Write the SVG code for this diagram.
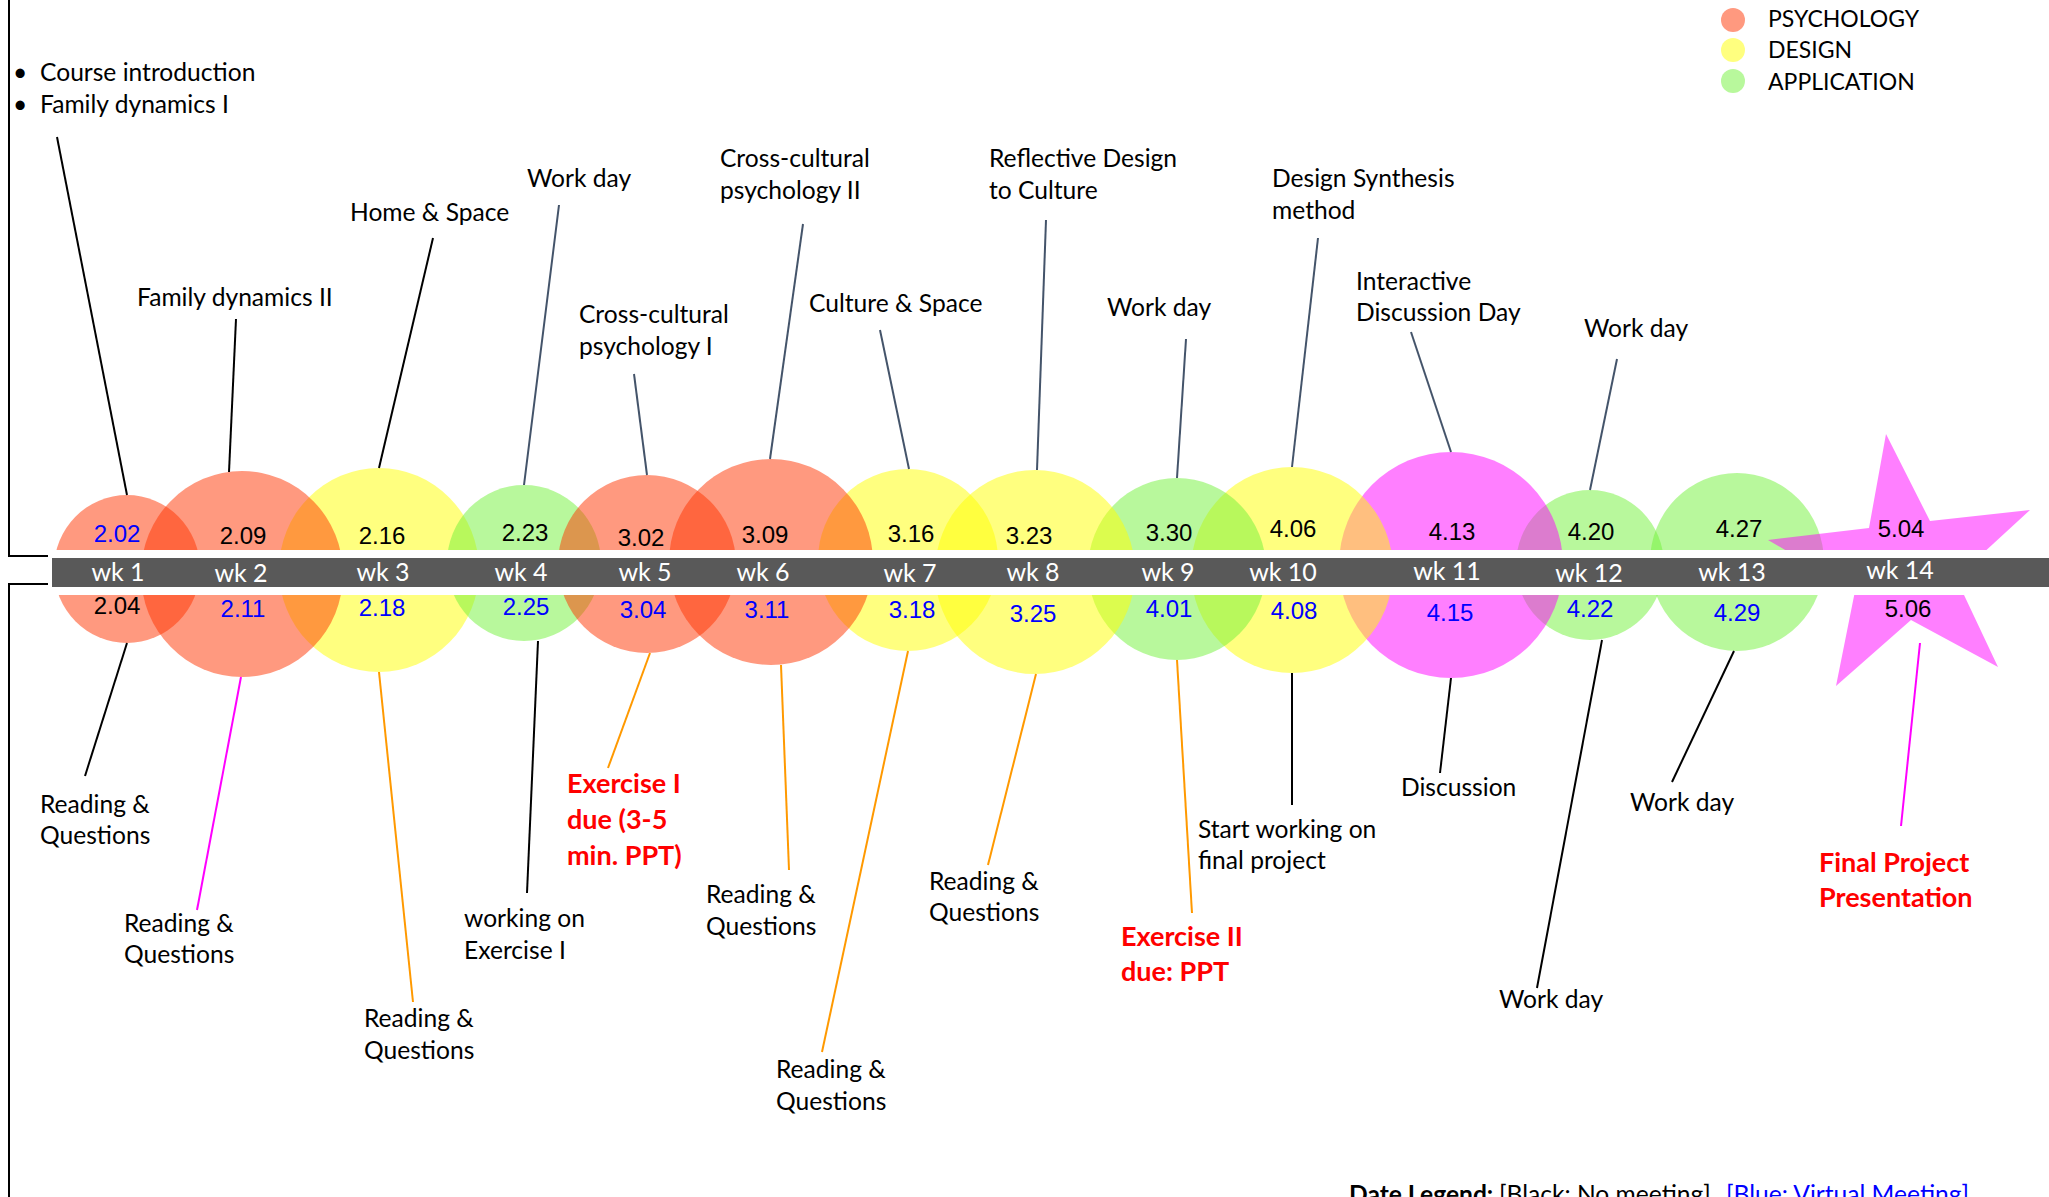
<svg xmlns="http://www.w3.org/2000/svg" width="2049" height="1197" viewBox="0 0 2049 1197">
<style>
.psy{fill:#FF3300;fill-opacity:.5}
.des{fill:#FFFF00;fill-opacity:.5}
.app{fill:#72F23A;fill-opacity:.5}
.mag{fill:#FF00FF;fill-opacity:.5}
.d{font-family:"Liberation Sans",Arial,sans-serif;font-size:24px;text-anchor:middle;fill:#000}
.b{fill:#0000FF}
.wk{font-family:Lato,"Open Sans",sans-serif;font-size:25px;fill:#FFFFFF;text-anchor:middle}
.lb{font-family:Lato,"Open Sans",sans-serif;font-size:24.6px;fill:#000}
.lg{font-family:Lato,"Open Sans",sans-serif;font-size:23px;fill:#000}
.red{font-family:Lato,"Open Sans",sans-serif;font-size:27px;font-weight:bold;fill:#FF0000}
.c line{stroke-width:2;fill:none}
.k{stroke:#000}
.s{stroke:#44546A}
.o{stroke:#FF9900}
.m{stroke:#FF00FF}
.frame{stroke:#000;stroke-width:2;fill:none}
</style>
<rect width="2049" height="1197" fill="#FFFFFF"/>

<g id="frame">
<polyline class="frame" points="9,0 9,556 48,556"/>
<polyline class="frame" points="48,584 9,584 9,1197"/>
</g>

<g id="nodes">
<g id="wk12"><ellipse class="app" cx="1590" cy="565" rx="74" ry="75"/><text class="d" x="1591" y="540">4.20</text><text class="d b" x="1590" y="617">4.22</text></g>
<g id="wk13"><ellipse class="app" cx="1737" cy="562" rx="87" ry="89"/><text class="d" x="1739" y="537">4.27</text><text class="d b" x="1737" y="621">4.29</text></g>
<g id="wk14"><polygon class="mag" points="1886,434 1930,521 2030,510 1956,578 1998,667 1911,620 1836,686 1855,591 1768,540 1869,528"/><text class="d" x="1901" y="537">5.04</text><text class="d" x="1908" y="617">5.06</text></g>
<g id="wk11"><ellipse class="mag" cx="1451" cy="565" rx="112" ry="113"/><text class="d" x="1452" y="540">4.13</text><text class="d b" x="1450" y="621">4.15</text></g>
<g id="wk10"><ellipse class="des" cx="1292" cy="570" rx="101" ry="103"/><text class="d" x="1293" y="537">4.06</text><text class="d b" x="1294" y="619">4.08</text></g>
<g id="wk9"><ellipse class="app" cx="1177" cy="569" rx="89" ry="91"/><text class="d" x="1169" y="541">3.30</text><text class="d b" x="1169" y="617">4.01</text></g>
<g id="wk8"><ellipse class="des" cx="1035" cy="572" rx="100" ry="102"/><text class="d" x="1029" y="544">3.23</text><text class="d b" x="1033" y="622">3.25</text></g>
<g id="wk7"><ellipse class="des" cx="908" cy="560" rx="90" ry="91"/><text class="d" x="911" y="542">3.16</text><text class="d b" x="912" y="618">3.18</text></g>
<g id="wk3"><ellipse class="des" cx="379" cy="570" rx="100" ry="102"/><text class="d" x="382" y="544">2.16</text><text class="d b" x="382" y="616">2.18</text></g>
<g id="wk4"><ellipse class="app" cx="524" cy="563" rx="77" ry="78"/><text class="d" x="525" y="541">2.23</text><text class="d b" x="526" y="615">2.25</text></g>
<g id="wk1"><ellipse class="psy" cx="127" cy="569" rx="73" ry="74"/><text class="d b" x="117" y="542">2.02</text><text class="d" x="117" y="614">2.04</text></g>
<g id="wk2"><ellipse class="psy" cx="242" cy="574" rx="101" ry="103"/><text class="d" x="243" y="544">2.09</text><text class="d b" x="243" y="617">2.11</text></g>
<g id="wk5"><ellipse class="psy" cx="647" cy="564" rx="89" ry="89"/><text class="d" x="641" y="546">3.02</text><text class="d b" x="643" y="618">3.04</text></g>
<g id="wk6"><ellipse class="psy" cx="771" cy="562" rx="102" ry="103"/><text class="d" x="765" y="543">3.09</text><text class="d b" x="767" y="618">3.11</text></g>
</g>

<g id="timeline">
<rect x="52" y="550" width="1997" height="45" fill="#FFFFFF"/>
<rect x="52" y="558" width="1997" height="29" fill="#595959"/>
<text class="wk" x="118" y="581">wk 1</text>
<text class="wk" x="241" y="582">wk 2</text>
<text class="wk" x="383" y="581">wk 3</text>
<text class="wk" x="521" y="581">wk 4</text>
<text class="wk" x="645" y="581">wk 5</text>
<text class="wk" x="763" y="581">wk 6</text>
<text class="wk" x="910" y="582">wk 7</text>
<text class="wk" x="1033" y="581">wk 8</text>
<text class="wk" x="1168" y="581">wk 9</text>
<text class="wk" x="1283" y="581">wk 10</text>
<text class="wk" x="1447" y="580">wk 11</text>
<text class="wk" x="1589" y="582">wk 12</text>
<text class="wk" x="1732" y="581">wk 13</text>
<text class="wk" x="1900" y="579">wk 14</text>
</g>

<g id="connectors" class="c">
<line class="k" x1="57" y1="137" x2="127" y2="495"/>
<line class="k" x1="236" y1="319" x2="229" y2="472"/>
<line class="k" x1="433" y1="238" x2="379" y2="468"/>
<line class="s" x1="559" y1="205" x2="524" y2="485"/>
<line class="s" x1="634" y1="374" x2="647" y2="475"/>
<line class="s" x1="803" y1="224" x2="770" y2="459"/>
<line class="s" x1="880" y1="330" x2="909" y2="469"/>
<line class="s" x1="1046" y1="220" x2="1037" y2="470"/>
<line class="s" x1="1186" y1="339" x2="1177" y2="478"/>
<line class="s" x1="1318" y1="238" x2="1292" y2="467"/>
<line class="s" x1="1411" y1="332" x2="1451" y2="452"/>
<line class="s" x1="1617" y1="359" x2="1590" y2="490"/>
<line class="k" x1="127" y1="643" x2="85" y2="776"/>
<line class="m" x1="241" y1="677" x2="197" y2="910"/>
<line class="o" x1="379" y1="672" x2="413" y2="1002"/>
<line class="k" x1="538" y1="641" x2="527" y2="893"/>
<line class="o" x1="650" y1="653" x2="608" y2="768"/>
<line class="o" x1="781" y1="665" x2="789" y2="870"/>
<line class="o" x1="908" y1="651" x2="822" y2="1052"/>
<line class="o" x1="1036" y1="674" x2="988" y2="865"/>
<line class="o" x1="1177" y1="660" x2="1192" y2="913"/>
<line class="k" x1="1292" y1="673" x2="1292" y2="805"/>
<line class="k" x1="1451" y1="678" x2="1440" y2="773"/>
<line class="k" x1="1602" y1="640" x2="1537" y2="988"/>
<line class="k" x1="1734" y1="651" x2="1672" y2="782"/>
<line class="m" x1="1920" y1="643" x2="1901" y2="826"/>
</g>

<g id="labels">
<g id="lbl-wk1-top"><text class="lb" x="13" y="81">•</text><text class="lb" x="40" y="81">Course introduction</text><text class="lb" x="13" y="113">•</text><text class="lb" x="40" y="113">Family dynamics I</text></g>
<g id="lbl-wk2-top"><text class="lb" x="137" y="306">Family dynamics II</text></g>
<g id="lbl-wk3-top"><text class="lb" x="350" y="221">Home &amp; Space</text></g>
<g id="lbl-wk4-top"><text class="lb" x="527" y="187">Work day</text></g>
<g id="lbl-wk5-top"><text class="lb" x="579" y="323">Cross-cultural</text><text class="lb" x="579" y="355">psychology I</text></g>
<g id="lbl-wk6-top"><text class="lb" x="720" y="167">Cross-cultural</text><text class="lb" x="720" y="199">psychology II</text></g>
<g id="lbl-wk7-top"><text class="lb" x="809" y="312">Culture &amp; Space</text></g>
<g id="lbl-wk8-top"><text class="lb" x="989" y="167">Reflective Design</text><text class="lb" x="989" y="199">to Culture</text></g>
<g id="lbl-wk9-top"><text class="lb" x="1107" y="316">Work day</text></g>
<g id="lbl-wk10-top"><text class="lb" x="1272" y="187">Design Synthesis</text><text class="lb" x="1272" y="219">method</text></g>
<g id="lbl-wk11-top"><text class="lb" x="1356" y="290">Interactive</text><text class="lb" x="1356" y="321">Discussion Day</text></g>
<g id="lbl-wk12-top"><text class="lb" x="1584" y="337">Work day</text></g>

<g id="lbl-wk1-bot"><text class="lb" x="40" y="813">Reading &amp;</text><text class="lb" x="40" y="844">Questions</text></g>
<g id="lbl-wk2-bot"><text class="lb" x="124" y="932">Reading &amp;</text><text class="lb" x="124" y="963">Questions</text></g>
<g id="lbl-wk3-bot"><text class="lb" x="364" y="1027">Reading &amp;</text><text class="lb" x="364" y="1059">Questions</text></g>
<g id="lbl-wk4-bot"><text class="lb" x="464" y="927">working on</text><text class="lb" x="464" y="959">Exercise I</text></g>
<g id="lbl-wk5-bot"><text class="red" x="567" y="793">Exercise I</text><text class="red" x="567" y="829">due (3-5</text><text class="red" x="567" y="865">min. PPT)</text></g>
<g id="lbl-wk6-bot"><text class="lb" x="706" y="903">Reading &amp;</text><text class="lb" x="706" y="935">Questions</text></g>
<g id="lbl-wk7-bot"><text class="lb" x="776" y="1078">Reading &amp;</text><text class="lb" x="776" y="1110">Questions</text></g>
<g id="lbl-wk8-bot"><text class="lb" x="929" y="890">Reading &amp;</text><text class="lb" x="929" y="921">Questions</text></g>
<g id="lbl-wk9-bot"><text class="red" x="1121" y="946">Exercise II</text><text class="red" x="1121" y="981">due: PPT</text></g>
<g id="lbl-wk10-bot"><text class="lb" x="1198" y="838">Start working on</text><text class="lb" x="1198" y="869">final project</text></g>
<g id="lbl-wk11-bot"><text class="lb" x="1401" y="796">Discussion</text></g>
<g id="lbl-wk12-bot"><text class="lb" x="1499" y="1008">Work day</text></g>
<g id="lbl-wk13-bot"><text class="lb" x="1630" y="811">Work day</text></g>
<g id="lbl-wk14-bot"><text class="red" x="1819" y="872">Final Project</text><text class="red" x="1819" y="907">Presentation</text></g>
</g>

<g id="legend">
<circle class="psy" cx="1733" cy="20" r="12"/>
<circle class="des" cx="1733" cy="50" r="12"/>
<circle class="app" cx="1733" cy="81" r="12"/>
<text class="lg" x="1768" y="27">PSYCHOLOGY</text>
<text class="lg" x="1768" y="58">DESIGN</text>
<text class="lg" x="1768" y="90">APPLICATION</text>
</g>

<g id="date-legend">
<text class="lb" y="1203"><tspan x="1349" font-weight="bold">Date Legend:</tspan><tspan x="1499">[Black: No meeting]</tspan><tspan x="1726" fill="#0000FF">[Blue: Virtual Meeting]</tspan></text>
</g>
</svg>
